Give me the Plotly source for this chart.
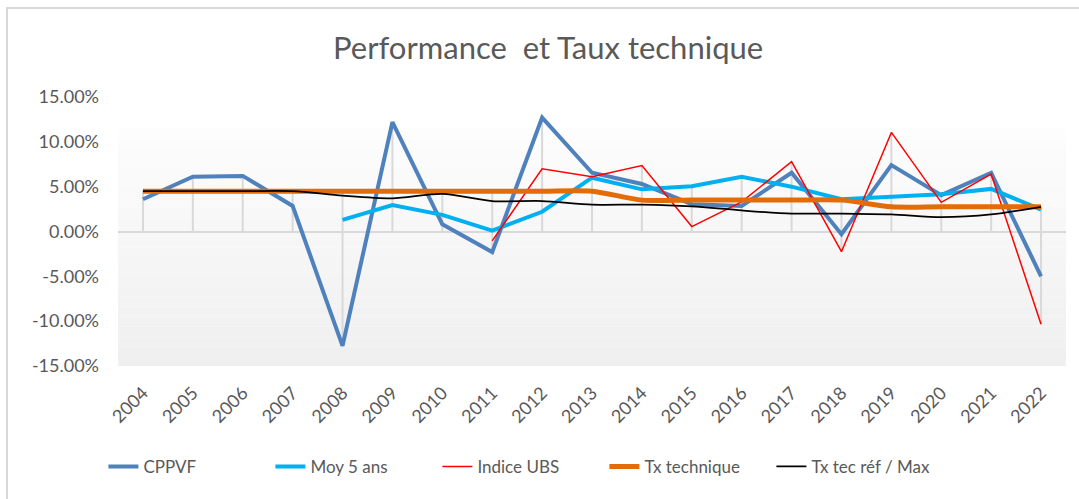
import plotly.graph_objects as go

years = [str(y) for y in range(2004, 2023)]

cppvf = [3.6, 6.1, 6.2, 2.85, -12.75, 12.2, 0.8, -2.3, 12.7, 6.55, 5.3, 3.05, 2.85, 6.55, -0.3, 7.4, 4.05, 6.55, -5.0]
moy5 = [None, None, None, None, 1.3, 2.95, 1.85, 0.1, 2.2, 6.0, 4.7, 5.05, 6.1, 5.0, 3.6, 3.9, 4.15, 4.75, 2.45]
ubs = [None, None, None, None, None, None, None, -1.05, 7.0, 6.1, 7.35, 0.55, 3.3, 7.8, -2.25, 11.05, 3.25, 6.4, -10.35]
tx_tech = [4.5, 4.5, 4.5, 4.5, 4.5, 4.5, 4.5, 4.5, 4.5, 4.5, 3.5, 3.5, 3.5, 3.5, 3.5, 2.75, 2.75, 2.75, 2.75]
tx_ref = [4.5, 4.5, 4.5, 4.5, 4.0, 3.7, 4.2, 3.4, 3.4, 3.0, 3.0, 2.8, 2.35, 2.0, 2.0, 1.9, 1.6, 1.9, 2.75]

y_ticks = [15, 10, 5, 0, -5, -10, -15]
y_ticktext = [f"{v:.2f}%" for v in y_ticks]

FONT = "Lato"
GREY_TXT = "#595959"
GRID = "#d9d9d9"

fig = go.Figure()

# drop lines computed from the data (Excel style)
dx, dy = [], []
for i, yr in enumerate(years):
    vals = [s[i] for s in (cppvf, moy5, ubs, tx_tech, tx_ref) if s[i] is not None]
    hi = max(vals + [0])
    lo = min(vals + [0])
    dx += [yr, yr, None]
    dy += [lo, hi, None]
fig.add_trace(go.Scatter(x=dx, y=dy, mode="lines", line=dict(color=GRID, width=2),
                         showlegend=False, hoverinfo="skip"))

fig.add_trace(go.Scatter(x=years, y=cppvf, name="CPPVF", mode="lines",
                         line=dict(color="#4F81BD", width=4)))
fig.add_trace(go.Scatter(x=years, y=moy5, name="Moy 5 ans", mode="lines",
                         line=dict(color="#00B0F0", width=4)))
fig.add_trace(go.Scatter(x=years, y=ubs, name="Indice UBS", mode="lines",
                         line=dict(color="#FF0000", width=1.5)))
fig.add_trace(go.Scatter(x=years, y=tx_tech, name="Tx technique", mode="lines",
                         line=dict(color="#E36C09", width=5, shape="spline", smoothing=0.8)))
fig.add_trace(go.Scatter(x=years, y=tx_ref, name="Tx tec réf / Max", mode="lines",
                         line=dict(color="#000000", width=1.75, shape="spline", smoothing=0.8)))

# subtle vertical gradient behind plot
shapes = []
n = 24
top, bot = 11.5, -15.0
for k in range(n):
    y0 = top - (top - bot) * k / n
    y1 = top - (top - bot) * (k + 1) / n
    c = int(253 - (253 - 240) * k / (n - 1))
    shapes.append(dict(type="rect", xref="paper", yref="y", x0=0, x1=1, y0=y1, y1=y0,
                       fillcolor=f"rgb({c},{c},{c})", line=dict(width=0), layer="below"))
# chart border (left and top visible)
shapes.append(dict(type="rect", xref="paper", yref="paper",
                   x0=(7 - 118) / 948, x1=(1090 - 118) / 948,
                   y0=(366 - 510) / 269, y1=(366 - 8) / 269,
                   line=dict(color=GRID, width=2), fillcolor="rgba(0,0,0,0)", layer="below"))

fig.update_layout(
    width=1079, height=499,
    margin=dict(l=118, r=13, t=97, b=133),
    paper_bgcolor="white", plot_bgcolor="white",
    shapes=shapes,
    title=dict(text="Performance  et Taux technique", x=0.508, xanchor="center",
               y=1 - 48 / 499, yanchor="middle", yref="container",
               font=dict(family=FONT, size=31, color=GREY_TXT)),
    font=dict(family=FONT, size=18, color=GREY_TXT),
    xaxis=dict(type="category", categoryorder="array", categoryarray=years,
               range=[-0.5, len(years) - 0.5],
               tickangle=-45, showgrid=False, zeroline=False, showline=False,
               ticks="", ticklabelstandoff=12, tickfont=dict(size=18, color=GREY_TXT)),
    yaxis=dict(range=[-15, 15], tickvals=y_ticks, ticktext=y_ticktext,
               showgrid=False, zeroline=True, zerolinecolor=GRID, zerolinewidth=2,
               showline=False, ticks="", ticklabelstandoff=18,
               tickfont=dict(size=18, color=GREY_TXT)),
    legend=dict(orientation="h", x=0.425, xanchor="center", y=-0.375, yanchor="middle",
                entrywidth=122, entrywidthmode="pixels",
                font=dict(size=17, color=GREY_TXT), bgcolor="rgba(0,0,0,0)"),
    showlegend=True,
)

fig.write_html("out.html", config={"displayModeBar": False},
               post_script="document.body.style.margin='0';")
